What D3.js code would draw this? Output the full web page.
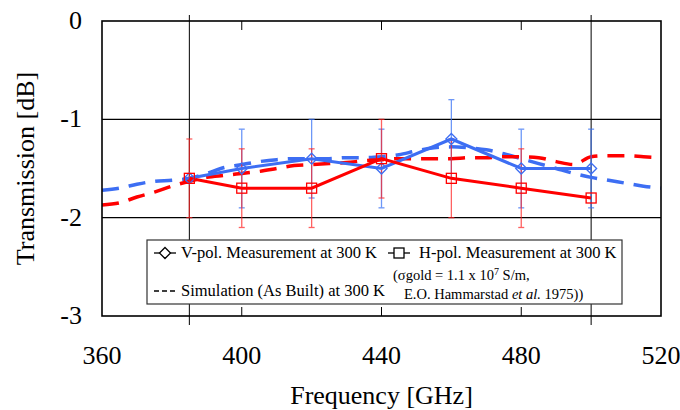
<!DOCTYPE html>
<html>
<head>
<meta charset="utf-8">
<script src="https://cdn.jsdelivr.net/npm/d3@7"></script>
<style>
  body { margin: 0; background: #fff; }
  svg { font-family: "Liberation Serif", "Times New Roman", serif; }
</style>
</head>
<body>
<div id="chart"></div>
<script>
// measured points
var measFreq = [385, 400, 420, 440, 460, 480, 500];
var vPol = [-1.6, -1.5, -1.4, -1.5, -1.2, -1.5, -1.5];
var vErrHi = [null, -1.1, -1.0, -1.1, -0.8, -1.1, -1.1];
var vErrLo = [null, -1.9, -1.8, -1.9, -1.6, -1.9, -1.9];
var hPol = [-1.6, -1.7, -1.7, -1.4, -1.6, -1.7, -1.8];
var hErrHi = [-1.2, -1.3, -1.3, -1.0, -1.2, -1.3, null];
var hErrLo = [-2.0, -2.1, -2.1, -1.8, -2.0, -2.1, null];

// simulation curves (as built)
var simFreq = [360, 365, 370, 375, 380, 385, 390, 395, 400, 405, 410, 415, 420, 425, 430, 435, 440,
  445, 450, 455, 460, 465, 470, 475, 480, 485, 490, 495, 500, 505, 510, 515, 520];
var simV = [-1.72, -1.70, -1.66, -1.63, -1.62, -1.60, -1.55, -1.49, -1.46, -1.43, -1.41, -1.40, -1.40, -1.40, -1.39, -1.39, -1.38,
  -1.36, -1.32, -1.29, -1.28, -1.29, -1.31, -1.35, -1.40, -1.45, -1.50, -1.55, -1.59, -1.62, -1.65, -1.68, -1.70];
var simH = [-1.87, -1.85, -1.79, -1.74, -1.68, -1.63, -1.59, -1.57, -1.55, -1.53, -1.50, -1.47, -1.46, -1.45, -1.44, -1.42, -1.41,
  -1.40, -1.40, -1.40, -1.40, -1.39, -1.39, -1.38, -1.38, -1.39, -1.43, -1.46, -1.38, -1.37, -1.37, -1.38, -1.39];

var xTicks = [360, 400, 440, 480, 520];
var yTicks = [0, -1, -2, -3];
var bandEdges = [385, 500];

var width = 680, height = 410;
var blue = "#3d6ef3", red = "#ff0000";

var svg = d3.select("#chart").append("svg")
  .attr("width", width)
  .attr("height", height);

var x = d3.scaleLinear().domain([360, 520]).range([102, 661]);
var y = d3.scaleLinear().domain([-3, 0]).range([316, 21]);

// grid lines
svg.selectAll(".hgrid")
  .data([-1, -2])
  .enter().append("line")
  .attr("x1", x(360)).attr("x2", x(520))
  .attr("y1", function (d) { return y(d); })
  .attr("y2", function (d) { return y(d); })
  .attr("stroke", "#000").attr("stroke-width", 1.2);

// band edge lines (extend past the frame)
svg.selectAll(".vline")
  .data(bandEdges)
  .enter().append("line")
  .attr("x1", function (d) { return x(d); })
  .attr("x2", function (d) { return x(d); })
  .attr("y1", y(0) - 6).attr("y2", y(-3) + 9)
  .attr("stroke", "#000").attr("stroke-width", 1);

// inner ticks top and bottom
[400, 440, 480].forEach(function (t) {
  svg.append("line").attr("x1", x(t)).attr("x2", x(t)).attr("y1", y(0)).attr("y2", y(0) + 9)
    .attr("stroke", "#000").attr("stroke-width", 1);
  svg.append("line").attr("x1", x(t)).attr("x2", x(t)).attr("y1", y(-3)).attr("y2", y(-3) - 9)
    .attr("stroke", "#000").attr("stroke-width", 1);
});

// simulation dashed curves
var simLine = function (vals) {
  return d3.line()
    .x(function (d, i) { return x(simFreq[i]); })
    .y(function (d) { return y(d); })
    .curve(d3.curveMonotoneX)(vals);
};
svg.append("path").attr("d", simLine(simV))
  .attr("fill", "none").attr("stroke", blue).attr("stroke-width", 3.5)
  .attr("stroke-dasharray", "17,10");
svg.append("path").attr("d", simLine(simH))
  .attr("fill", "none").attr("stroke", red).attr("stroke-width", 3.5)
  .attr("stroke-dasharray", "17,10");

// error bars
function errorBars(hi, lo, color, op) {
  var g = svg.append("g").attr("stroke", color).attr("stroke-width", 1.3).attr("opacity", op);
  measFreq.forEach(function (f, i) {
    if (hi[i] === null) return;
    var cx = x(f);
    g.append("line").attr("x1", cx).attr("x2", cx).attr("y1", y(hi[i])).attr("y2", y(lo[i]));
    g.append("line").attr("x1", cx - 3).attr("x2", cx + 3).attr("y1", y(hi[i])).attr("y2", y(hi[i]));
    g.append("line").attr("x1", cx - 3).attr("x2", cx + 3).attr("y1", y(lo[i])).attr("y2", y(lo[i]));
  });
}
errorBars(vErrHi, vErrLo, "#3d75f5", 0.75);
errorBars(hErrHi, hErrLo, "#ff2020", 0.7);

// measurement lines
var measLine = d3.line()
  .x(function (d, i) { return x(measFreq[i]); })
  .y(function (d) { return y(d); });
svg.append("path").attr("d", measLine(vPol))
  .attr("fill", "none").attr("stroke", blue).attr("stroke-width", 3);
svg.append("path").attr("d", measLine(hPol))
  .attr("fill", "none").attr("stroke", red).attr("stroke-width", 3);

// markers
svg.selectAll(".diamond")
  .data(vPol).enter().append("path")
  .attr("transform", function (d, i) { return "translate(" + x(measFreq[i]) + "," + y(d) + ")"; })
  .attr("d", "M0,-5.5L5.5,0L0,5.5L-5.5,0Z")
  .attr("fill", "none").attr("stroke", blue).attr("stroke-width", 1.3);
svg.selectAll(".square")
  .data(hPol).enter().append("rect")
  .attr("x", function (d, i) { return x(measFreq[i]) - 5; })
  .attr("y", function (d) { return y(d) - 5; })
  .attr("width", 10).attr("height", 10)
  .attr("fill", "none").attr("stroke", red).attr("stroke-width", 1.3);

// frame
svg.append("rect")
  .attr("x", x(360)).attr("y", y(0))
  .attr("width", x(520) - x(360)).attr("height", y(-3) - y(0))
  .attr("fill", "none").attr("stroke", "#000").attr("stroke-width", 1.6);

// tick labels
svg.selectAll(".ylab")
  .data(yTicks).enter().append("text")
  .attr("x", 82).attr("y", function (d) { return y(d) + 8; })
  .attr("text-anchor", "end").attr("font-size", 26)
  .text(function (d) { return d; });
svg.selectAll(".xlab")
  .data(xTicks).enter().append("text")
  .attr("x", function (d) { return x(d); }).attr("y", 364)
  .attr("text-anchor", "middle").attr("font-size", 26)
  .text(function (d) { return d; });

// axis titles
svg.append("text")
  .attr("transform", "translate(34," + (y(-1.5)) + ") rotate(-90)")
  .attr("text-anchor", "middle").attr("font-size", 26)
  .text("Transmission [dB]");
svg.append("text")
  .attr("x", x(440)).attr("y", 404)
  .attr("text-anchor", "middle").attr("font-size", 26)
  .text("Frequency [GHz]");

// legend
var lg = svg.append("g");
lg.append("rect").attr("x", 147).attr("y", 240).attr("width", 475).attr("height", 64)
  .attr("fill", "#fff").attr("stroke", "#333").attr("stroke-width", 1.2);
lg.append("line").attr("x1", 154).attr("x2", 176).attr("y1", 253).attr("y2", 253)
  .attr("stroke", "#000").attr("stroke-width", 1.3);
lg.append("path").attr("transform", "translate(165,253)")
  .attr("d", "M0,-5.5L5.5,0L0,5.5L-5.5,0Z")
  .attr("fill", "#fff").attr("stroke", "#000").attr("stroke-width", 1.3);
lg.append("text").attr("x", 181).attr("y", 258).attr("font-size", 16.5)
  .text("V-pol. Measurement at 300 K");
lg.append("line").attr("x1", 388).attr("x2", 410).attr("y1", 253).attr("y2", 253)
  .attr("stroke", "#000").attr("stroke-width", 1.3);
lg.append("rect").attr("x", 394).attr("y", 248).attr("width", 10).attr("height", 10)
  .attr("fill", "#fff").attr("stroke", "#000").attr("stroke-width", 1.3);
lg.append("text").attr("x", 419).attr("y", 258).attr("font-size", 16.5)
  .text("H-pol. Measurement at 300 K");
lg.append("line").attr("x1", 154).attr("x2", 176).attr("y1", 291).attr("y2", 291)
  .attr("stroke", "#000").attr("stroke-width", 1.3).attr("stroke-dasharray", "5,3");
lg.append("text").attr("x", 181).attr("y", 296).attr("font-size", 16.5)
  .text("Simulation (As Built) at 300 K");
var t1 = lg.append("text").attr("x", 393).attr("y", 280).attr("font-size", 14.5);
t1.append("tspan").text("(\u03c3gold = 1.1 x 10");
t1.append("tspan").attr("dy", -5).attr("font-size", 10).text("7");
t1.append("tspan").attr("dy", 5).text(" S/m,");
var t2 = lg.append("text").attr("x", 404).attr("y", 299).attr("font-size", 14.5);
t2.append("tspan").text("E.O. Hammarstad ");
t2.append("tspan").attr("font-style", "italic").text("et al.");
t2.append("tspan").text(" 1975))");
</script>
</body>
</html>
